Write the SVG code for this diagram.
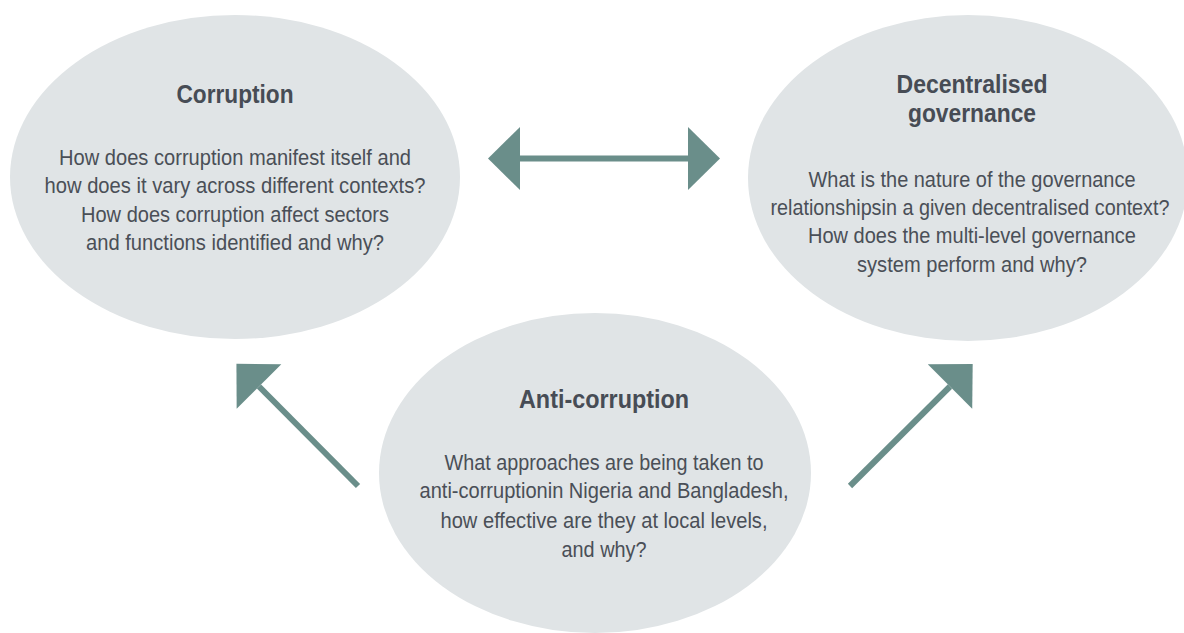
<svg xmlns="http://www.w3.org/2000/svg" width="1184" height="633" viewBox="0 0 1184 633">
<style>
.bubble{fill:#e0e4e6}
.title{font-family:"Liberation Sans",Arial,sans-serif;font-weight:bold;font-size:25px;fill:#474c55;text-anchor:middle}
.body{font-family:"Liberation Sans",Arial,sans-serif;font-size:21.5px;fill:#4a4f57;text-anchor:middle}
.conn{stroke:#6a8e8a;stroke-width:6;fill:none}
</style>
<defs>
<marker id="head" markerUnits="userSpaceOnUse" viewBox="0 -32 33 64" refX="0" refY="0" markerWidth="33" markerHeight="64" orient="auto-start-reverse" overflow="visible">
<path d="M0,-31.5 L32,0 L0,31.5 Z" fill="#6a8e8a"/>
</marker>
</defs>
<rect width="1184" height="633" fill="#ffffff"/>
<g id="node-corruption">
<ellipse class="bubble" cx="235" cy="177" rx="225" ry="162"/>
<text class="title" x="235" y="103" textLength="117" lengthAdjust="spacingAndGlyphs">Corruption</text>
<text class="body" x="235" y="165" textLength="352" lengthAdjust="spacingAndGlyphs">How does corruption manifest itself and</text>
<text class="body" x="235" y="193" textLength="381" lengthAdjust="spacingAndGlyphs">how does it vary across different contexts?</text>
<text class="body" x="235" y="222" textLength="308" lengthAdjust="spacingAndGlyphs">How does corruption affect sectors</text>
<text class="body" x="235" y="250" textLength="298" lengthAdjust="spacingAndGlyphs">and functions identified and why?</text>
</g>
<g id="node-decentralised">
<ellipse class="bubble" cx="968" cy="178" rx="220" ry="163"/>
<text class="title" x="972" y="93" textLength="151" lengthAdjust="spacingAndGlyphs">Decentralised</text>
<text class="title" x="972" y="122" textLength="128" lengthAdjust="spacingAndGlyphs">governance</text>
<text class="body" x="972" y="187" textLength="327" lengthAdjust="spacingAndGlyphs">What is the nature of the governance</text>
<text class="body" x="970" y="215" textLength="399" lengthAdjust="spacingAndGlyphs">relationshipsin a given decentralised context?</text>
<text class="body" x="972" y="243" textLength="328" lengthAdjust="spacingAndGlyphs">How does the multi-level governance</text>
<text class="body" x="972" y="272" textLength="230" lengthAdjust="spacingAndGlyphs">system perform and why?</text>
</g>
<g id="node-anticorruption">
<ellipse class="bubble" cx="595" cy="473" rx="216" ry="160"/>
<text class="title" x="604" y="408" textLength="170" lengthAdjust="spacingAndGlyphs">Anti-corruption</text>
<text class="body" x="604" y="470" textLength="319" lengthAdjust="spacingAndGlyphs">What approaches are being taken to</text>
<text class="body" x="604" y="498" textLength="369" lengthAdjust="spacingAndGlyphs">anti-corruptionin Nigeria and Bangladesh,</text>
<text class="body" x="604" y="528" textLength="327" lengthAdjust="spacingAndGlyphs">how effective are they at local levels,</text>
<text class="body" x="604" y="557" textLength="85" lengthAdjust="spacingAndGlyphs">and why?</text>
</g>
<g id="connectors">
<line class="conn" x1="520" y1="158.5" x2="688" y2="158.5" marker-start="url(#head)" marker-end="url(#head)"/>
<line class="conn" x1="358" y1="486" x2="259" y2="386.5" marker-end="url(#head)"/>
<line class="conn" x1="850" y1="486" x2="950" y2="386.5" marker-end="url(#head)"/>
</g>
</svg>
